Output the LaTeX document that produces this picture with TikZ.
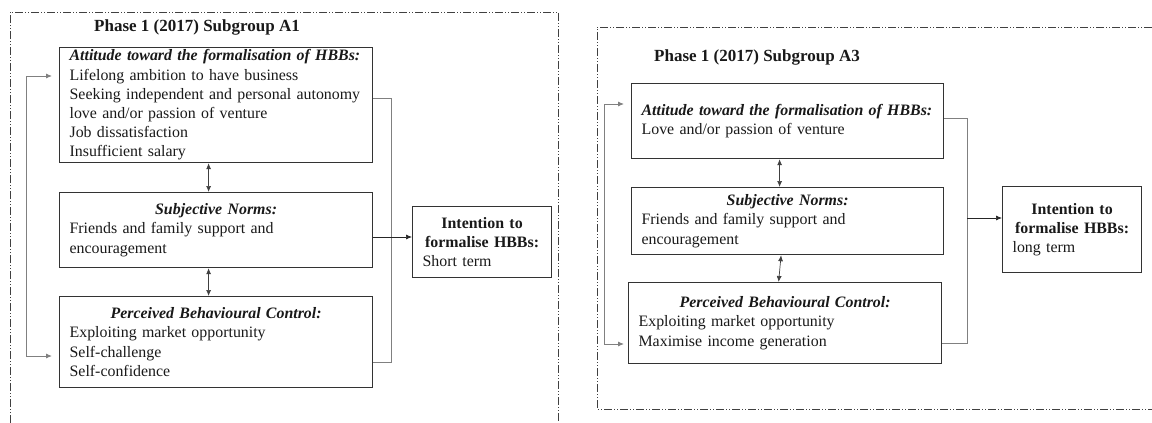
\documentclass[tikz,border=0pt]{standalone}
\usepackage{fontspec}
\setmainfont{Liberation Serif}
\usetikzlibrary{arrows.meta}
% centred bold-italic heading line inside a factor box, then ragged-right items
\newcommand{\factorhead}[1]{\centering\textbf{\textit{#1}}\par\raggedright}
\begin{document}
\begin{tikzpicture}[x=1pt,y=-1pt,
  frame/.style={draw=black!75, line width=0.8pt,
    dash pattern=on 8pt off 2pt on 1pt off 2pt on 1pt off 2pt},
  factor/.style={draw=black!80, line width=1.2pt, rectangle, anchor=north west,
    inner xsep=0pt, inner ysep=0pt, text=black!90,
    font=\fontsize{15.9}{19.2}\selectfont},
  heading/.style={font=\fontsize{17}{20}\selectfont\bfseries, text=black!90},
  dbl/.style={{Latex[length=6pt,width=5pt]}-{Latex[length=6pt,width=5pt]},
    draw=black!75, line width=0.7pt},
  fb/.style={{Latex[length=6pt,width=5pt]}-{Latex[length=6pt,width=5pt]},
    draw=black!50, line width=0.9pt},
  link/.style={draw=black!50, line width=0.9pt},
  arr/.style={-{Latex[length=6pt,width=5pt]}, draw=black!85, line width=0.7pt}
]
\useasboundingbox (0,0) rectangle (1152,423);

% ---------- Subgroup A1 ----------
\draw[frame] (10,423) -- (10,12) -- (558,12) -- (558,423);
\node[heading] (t1) at (197,27) {Phase 1 (2017) Subgroup A1};

\node[factor, minimum width=313pt, minimum height=115pt, text width=293pt]
  (a1att) at (59,47) {\raggedright\mbox{\textbf{\textit{Attitude toward the formalisation of HBBs:}}}\\
  Lifelong ambition to have business\\
  \mbox{Seeking independent and personal autonomy}\\
  love and/or passion of venture\\
  Job dissatisfaction\\
  Insufficient salary};
\node[factor, minimum width=313pt, minimum height=75pt, text width=293pt]
  (a1sn) at (59,192) {\factorhead{Subjective Norms:}Friends and family support and\\encouragement};
\node[factor, minimum width=313pt, minimum height=91pt, text width=293pt]
  (a1pbc) at (59,296) {\factorhead{Perceived Behavioural Control:}Exploiting market opportunity\\Self-challenge\\Self-confidence};
\node[factor, minimum width=139pt, minimum height=71pt, text width=119pt]
  (a1int) at (412,206) {\centering\textbf{Intention to\\formalise HBBs:}\par\raggedright Short term};

\draw[dbl] ([xshift=-7.5pt]a1att.south) -- ([xshift=-7.5pt]a1sn.north);
\draw[dbl] ([xshift=-7.5pt]a1sn.south) -- ([xshift=-7.5pt]a1pbc.north);

\coordinate (a1fbT) at (26,76);
\coordinate (a1fbB) at (26,356);
\draw[fb, shorten <=7pt, shorten >=7pt] (a1att.west |- a1fbT) -- (a1fbT) -- (a1fbB) -- (a1pbc.west |- a1fbB);

\coordinate (a1jT) at (391,98);
\coordinate (a1jB) at (391,362);
\coordinate (a1out) at (391,237);
\draw[link] (a1att.east |- a1jT) -- (a1jT) -- (a1jB) -- (a1pbc.east |- a1jB);
\draw[arr] (a1sn.east |- a1out) -- (a1int.west |- a1out);

% ---------- Subgroup A3 ----------
\draw[frame] (1152,27) -- (597,27) -- (597,409) -- (1152,409);
\node[heading] (t3) at (757,57) {Phase 1 (2017) Subgroup A3};

\node[factor, minimum width=312pt, minimum height=75pt, text width=292pt]
  (a3att) at (631,83) {\raggedright\mbox{\textbf{\textit{Attitude toward the formalisation of HBBs:}}}\\
  Love and/or passion of venture};
\node[factor, minimum width=312pt, minimum height=67pt, text width=292pt]
  (a3sn) at (631,187) {\factorhead{Subjective Norms:}Friends and family support and\\encouragement};
\node[factor, minimum width=313pt, minimum height=81pt, text width=293pt]
  (a3pbc) at (628,282) {\factorhead{Perceived Behavioural Control:}Exploiting market opportunity\\Maximise income generation};
\node[factor, minimum width=139pt, minimum height=86pt, text width=119pt]
  (a3int) at (1002,186) {\centering\textbf{Intention to\\formalise HBBs:}\par\raggedright long term};

\draw[dbl] ([xshift=-8pt]a3att.south) -- ([xshift=-8pt]a3sn.north);
\draw[dbl] ([xshift=-6.5pt]a3sn.south) -- ([xshift=-6.5pt]a3pbc.north);

\coordinate (a3fbT) at (604,104);
\coordinate (a3fbB) at (604,344);
\draw[fb, shorten <=7pt, shorten >=4pt] (a3att.west |- a3fbT) -- (a3fbT) -- (a3fbB) -- (a3pbc.west |- a3fbB);

\coordinate (a3jT) at (967,118);
\coordinate (a3jB) at (967,343);
\coordinate (a3out) at (967,218);
\draw[link] (a3att.east |- a3jT) -- (a3jT) -- (a3jB) -- (a3pbc.east |- a3jB);
\draw[arr] (a3out) -- (a3int.west |- a3out);
\end{tikzpicture}
\end{document}
